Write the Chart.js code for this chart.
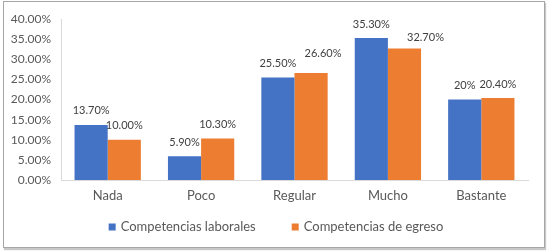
<!DOCTYPE html>
<html>
<head>
<meta charset="utf-8">
<script src="https://cdn.jsdelivr.net/npm/chart.js@4/dist/chart.umd.min.js"></script>
<style>
  html, body { margin: 0; padding: 0; background: #fff; }
  .frame {
    position: absolute; left: 3px; top: 1px; width: 540px; height: 245px;
    border: 1px solid #a6a6a6; box-shadow: 1px 2px 1px #c8c8c8; background: #fff;
  }
  canvas { display: block; }
</style>
</head>
<body>
<div class="frame"><canvas id="chart" width="540" height="245"></canvas></div>
<script>
// Categories and series values (percent)
const categories = ['Nada', 'Poco', 'Regular', 'Mucho', 'Bastante'];
const laborales = [13.7, 5.9, 25.5, 35.3, 20];
const egreso = [10.0, 10.3, 26.6, 32.7, 20.4];
const laboralesLabels = ['13.70%', '5.90%', '25.50%', '35.30%', '20%'];
const egresoLabels = ['10.00%', '10.30%', '26.60%', '32.70%', '20.40%'];
const yTicks = [0, 5, 10, 15, 20, 25, 30, 35, 40];

const textColor = '#595959';
const font = 'Lato';

// value labels above each bar
const barLabels = {
    id: 'barLabels',
    afterDatasetsDraw(chart) {
        const { ctx } = chart;
        const texts = [laboralesLabels, egresoLabels];
        // a couple of labels were nudged in the original to avoid overlaps
        const nudge = { '1-2': [12, -6], '1-3': [21, 3] };
        ctx.save();
        ctx.font = '11px ' + font;
        ctx.fillStyle = '#404040';
        ctx.textAlign = 'center';
        ctx.textBaseline = 'middle';
        chart.data.datasets.forEach((ds, i) => {
            chart.getDatasetMeta(i).data.forEach((bar, j) => {
                const [dx, dy] = nudge[i + '-' + j] || [0, 0];
                ctx.fillText(texts[i][j], bar.x + dx, bar.y - 14 + dy);
            });
        });
        ctx.restore();
    }
};

// Excel-style legend: small squares, wide gap between items
const wideLegend = {
    id: 'wideLegend',
    afterDraw(chart) {
        const { ctx, chartArea } = chart;
        const box = 7, gap = 5, itemGap = 36;
        ctx.save();
        ctx.font = '13px ' + font;
        ctx.textBaseline = 'middle';
        const items = chart.data.datasets.map(ds => ({
            text: ds.label, color: ds.backgroundColor, w: ctx.measureText(ds.label).width
        }));
        const total = items.reduce((s, it) => s + box + gap + it.w, 0) + itemGap * (items.length - 1);
        let x = chart.width / 2 + 2 - total / 2;
        const y = chartArea.bottom + 47;
        items.forEach(it => {
            ctx.fillStyle = it.color;
            ctx.fillRect(x, y - box / 2, box, box);
            ctx.fillStyle = textColor;
            ctx.fillText(it.text, x + box + gap, y);
            x += box + gap + it.w + itemGap;
        });
        ctx.restore();
    }
};

new Chart(document.getElementById('chart'), {
    type: 'bar',
    data: {
        labels: categories,
        datasets: [
            { label: 'Competencias laborales', data: laborales, backgroundColor: '#4472C4' },
            { label: 'Competencias de egreso', data: egreso, backgroundColor: '#ED7D31' }
        ]
    },
    options: {
        responsive: false,
        animation: false,
        layout: { padding: { top: 15, right: 16, left: 0, bottom: 37 } },
        datasets: { bar: { categoryPercentage: 0.71, barPercentage: 1.0 } },
        scales: {
            x: {
                afterFit: (scale) => { scale.height = 30; },
                grid: { display: false, drawTicks: false },
                border: { color: '#d9d9d9' },
                ticks: { color: textColor, font: { family: font, size: 13 }, padding: 8 }
            },
            y: {
                min: 0, max: 40,
                afterFit: (scale) => { scale.width = 57; },
                afterBuildTicks: (scale) => { scale.ticks = yTicks.map(v => ({ value: v })); },
                grid: { display: false, drawTicks: false },
                border: { color: '#d9d9d9' },
                ticks: {
                    color: textColor, font: { family: font, size: 12 }, padding: 10,
                    callback: (v) => v.toFixed(2) + '%'
                }
            }
        },
        plugins: {
            legend: { display: false },
            tooltip: { enabled: false }
        }
    },
    plugins: [barLabels, wideLegend]
});
</script>
</body>
</html>
